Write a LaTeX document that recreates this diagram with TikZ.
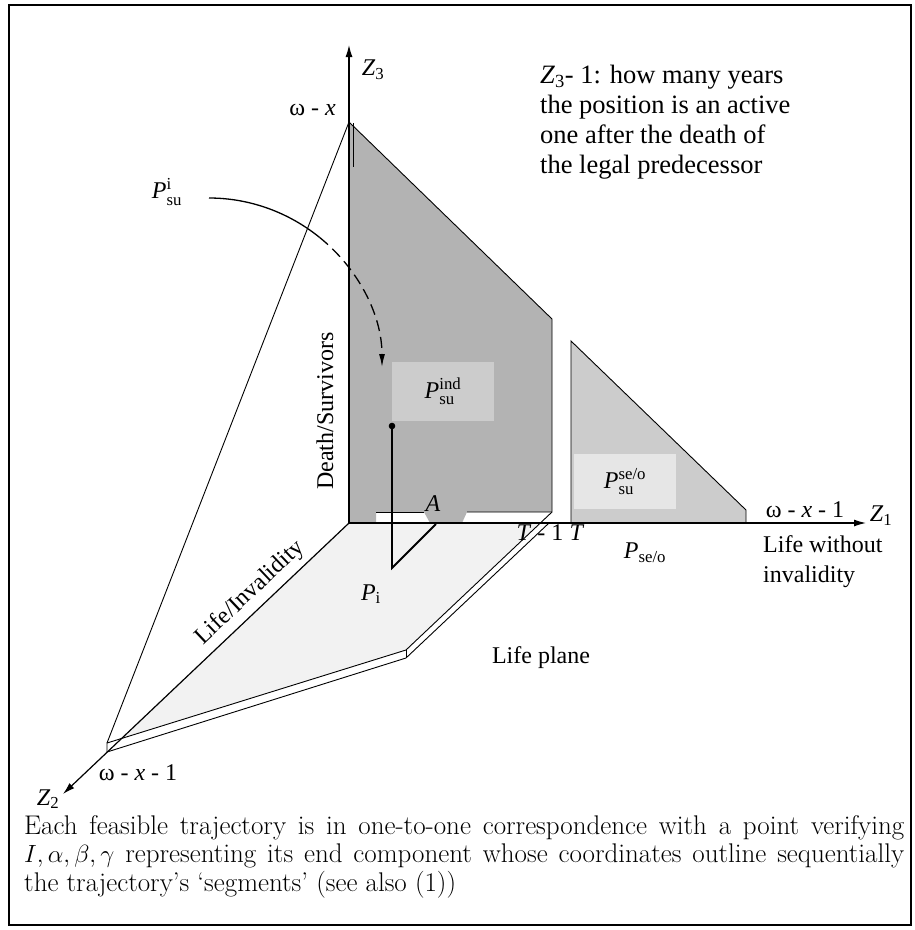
\documentclass[tikz,border=0pt]{standalone}
\usepackage{fontspec}
\usepackage{amsmath}
\usetikzlibrary{arrows.meta}
\newfontfamily\timesfont{Liberation Serif}
\definecolor{panelgray}{HTML}{B3B3B3}
\definecolor{boxgray}{HTML}{CCCCCC}
\definecolor{paleboxgray}{HTML}{E6E6E6}
\definecolor{planegray}{HTML}{F2F2F2}

\begin{document}
\begin{tikzpicture}[
    x=1pt, y=-1pt,
    font=\timesfont\fontsize{24}{30}\selectfont,
    lbl/.style={inner sep=0pt},
    axis/.style={-{Latex[length=12pt,width=7pt]}, line width=1.2pt},
    edge/.style={line width=0.9pt},
    labelbox/.style={rectangle, inner sep=0pt, draw=none, minimum width=102pt},
    traj/.style={line width=1.8pt},
    curve/.style={line width=1.3pt},
    caption/.style={lbl, text width=880pt, align=justify,
        font=\normalfont\fontsize{27}{28.5}\selectfont\addfontfeatures{LetterSpace=2}}
]
\useasboundingbox (0,0) rectangle (915,930);
\draw[line width=1.4pt] (9,5) rectangle (911,925);

% Reference points
\coordinate (O) at (349,523);
\coordinate (Z3tip) at (349,45);
\coordinate (Z1tip) at (866,523);
\coordinate (Z2tip) at (63,794);
\coordinate (wx) at (349,122);
\coordinate (dtr) at (552,319);
\coordinate (dbr) at (552,512);

% Life plane corners
\coordinate (pt) at (107,743);
\coordinate (pc) at (107,752);
\coordinate (pl) at (122,738);
\coordinate (pf) at (406,650);
\coordinate (pfb) at (406,658);
\coordinate (pa) at (540,523);
\coordinate (prb) at (549,523);

% Trajectory and arc ends
\coordinate (tdot) at (392,426);
\coordinate (tbot) at (392,568);
\coordinate (tA) at (436,524);
\coordinate (arcA) at (209,198);
\coordinate (arcM) at (319.7,237.5);
\coordinate (arcB) at (382,367);

% Life plane (plate)
\fill[planegray] (O) -- (pa) -- (pf) -- (pl) -- cycle;
\fill[white] (pt) -- (pf) -- (pfb) -- (pc) -- cycle;
\fill[white] (pf) -- (pfb) -- (prb) -- (pa) -- cycle;
\draw[edge] (dbr) -- (pf) -- (pt) -- (pc) -- (pfb) -- (prb);
\draw[edge] (pf) -- (pfb);

% Death/Survivors panel
\fill[panelgray] (O) -- (wx) -- (dtr) -- (dbr) -- (467,512) -- (462,523)
    -- (430,523) -- (424,512) -- (376,512) -- (376,523) -- cycle;
\draw[edge] (wx) -- (dtr) -- (dbr) -- (467,512);
\draw[edge] (424,512) -- (376,512);
\draw[edge] (353,123) -- (353,167);

% Survivors of the old-age pension
\fill[boxgray] (571,341) -- (571,523) -- (746,523) -- (746,510) -- cycle;
\draw[edge] (571,523) -- (571,341) -- (746,510) -- (746,523);

% Region boxes
\node[labelbox, fill=boxgray, minimum height=59pt] (ind) at (443,391.5) {\textit{P}$^{\text{ind}}_{\text{su}}$};
\node[labelbox, fill=paleboxgray, minimum height=55pt] (seo) at (625,481.5) {\textit{P}$^{\text{se/o}}_{\text{su}}$};

% Outer edge and axes
\draw[edge] (pt) -- (wx);
\draw[axis] (O) -- (Z3tip);
\draw[axis] (O) -- (Z1tip);
\draw[axis] (O) -- (Z2tip);

% Trajectory
\draw[traj] (tdot) -- (tbot) -- (tA);
\fill (tdot) circle (3.3pt);

% Arc from P_su^i
\draw[curve] (arcA) .. controls (250,198) and (289,212.6) .. (arcM);
\draw[curve, dash pattern=on 11pt off 6pt, -{Latex[length=13pt,width=6pt]}]
    (arcM) .. controls (357.2,267.9) and (382,313.7) .. (arcB);

% Labels
\node[lbl] (z3lbl) at (373,70) {\textit{Z}$_{\text{3}}$};
\node[lbl, anchor=east] (wxlbl) at (336,110) {ω - \textit{x}};
\node[lbl, anchor=north west, align=left, font=\timesfont\fontsize{26.5}{30}\selectfont] (note) at (540,65)
    {\textit{Z}$_{\text{3}}$- 1: how many years\\the position is an active\\one after the death of\\the legal predecessor};
\node[lbl] (psui) at (167,192) {\textit{P}$^{\text{i}}_{\text{su}}$};
\node[lbl, rotate=90] (death) at (325,411) {Death/Survivors};
\node[lbl] (albl) at (433,504) {\textit{A}};
\node[lbl] (tm1) at (540,533) {\textit{T} - 1};
\node[lbl] (tlbl) at (577,533) {\textit{T}};
\node[lbl] (pseo) at (645,553) {\textit{P}$_{\text{se/o}}$};
\node[lbl] (wx1) at (805,510) {ω - \textit{x} - 1};
\node[lbl] (z1lbl) at (881,516) {\textit{Z}$_{\text{1}}$};
\node[lbl, anchor=north west, align=left] (lwi) at (763,535) {Life without\\invalidity};
\node[lbl] (pilbl) at (371,594) {\textit{P}$_{\text{i}}$};
\node[lbl, rotate=43.4] (li) at (250,593) {Life/Invalidity};
\node[lbl] (plane) at (541,658) {Life plane};
\node[lbl] (wx1b) at (138,773) {ω - \textit{x} - 1};
\node[lbl] (z2lbl) at (48,799) {\textit{Z}$_{\text{2}}$};

% Caption
\node[caption, anchor=north west] (cap) at (24,815)
    {Each feasible trajectory is in one-to-one correspondence with a point verifying\linebreak
     $I,\alpha,\beta,\gamma$ representing its end component whose coordinates outline sequentially\linebreak
     the trajectory's `segments' (see also (1))};

\end{tikzpicture}
\end{document}
